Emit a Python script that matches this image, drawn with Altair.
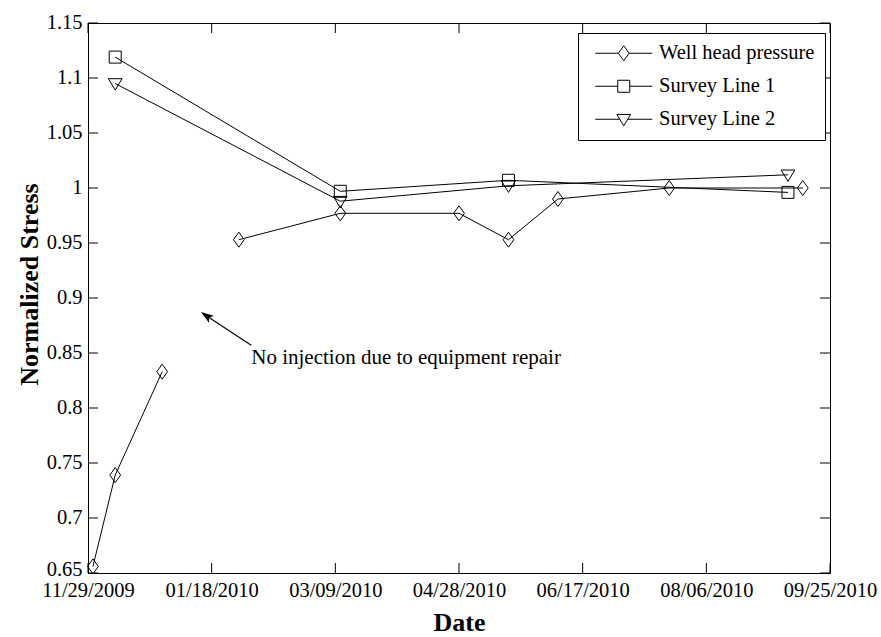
import altair as alt
import pandas as pd

series_names = ["Well head pressure", "Survey Line 1", "Survey Line 2"]

well_dates = ["2009-12-01", "2009-12-10", "2009-12-29", "2010-01-29", "2010-03-11",
              "2010-04-28", "2010-05-18", "2010-06-07", "2010-07-22", "2010-09-14"]
well_values = [0.656, 0.739, 0.833, 0.953, 0.977, 0.977, 0.953, 0.990, 1.000, 1.000]
# injection stopped between the 3rd and 4th measurement (no line across the gap)
well_segment = [1, 1, 1, 2, 2, 2, 2, 2, 2, 2]

line1_dates = ["2009-12-10", "2010-03-11", "2010-05-18", "2010-09-08"]
line1_values = [1.119, 0.997, 1.007, 0.996]

line2_dates = ["2009-12-10", "2010-03-11", "2010-05-18", "2010-09-08"]
line2_values = [1.095, 0.988, 1.002, 1.012]

x_tick_dates = ["2009-11-29", "2010-01-18", "2010-03-09", "2010-04-28",
                "2010-06-17", "2010-08-06", "2010-09-25"]
y_tick_values = [0.65, 0.7, 0.75, 0.8, 0.85, 0.9, 0.95, 1.0, 1.05, 1.1, 1.15]

note_text = "No injection due to equipment repair"
note_date = "2010-02-03"
note_value = 0.8455
arrow_tail_date = "2010-02-03"
arrow_tail_value = 0.857
arrow_head_date = "2010-01-16"
arrow_head_value = 0.8836

# ---- styles ----
W, H = 742, 550
FONT = "Liberation Serif"
marker_paths = [
    "M0,-1.25L0.9,0L0,1.25L-0.9,0Z",
    "M-1,-1L1,-1L1,1L-1,1Z",
    "M-1.15,-0.8L1.15,-0.8L0,1.1Z",
]
legend_paths = [
    "M-4.75,0L-0.9,0M0.9,0L4.75,0M0,-1.25L0.9,0L0,1.25L-0.9,0Z",
    "M-4.75,0L-1,0M1,0L4.75,0M-1,-1L1,-1L1,1L-1,1Z",
    "M-4.75,0L-0.67,0M0.67,0L4.75,0M-1.15,-0.8L1.15,-0.8L0,1.1Z",
]
arrow_path = "M0,-1L0.6,0.8L0,0.4L-0.6,0.8Z"


def ts(s):
    return s + "T00:00:00"


def dt(s):
    y, m, d = map(int, s.split("-"))
    return alt.DateTime(year=y, month=m, date=d)


rows = []
for d, v, g in zip(well_dates, well_values, well_segment):
    rows.append({"date": ts(d), "value": v, "series": series_names[0], "segment": f"w{g}"})
for d, v in zip(line1_dates, line1_values):
    rows.append({"date": ts(d), "value": v, "series": series_names[1], "segment": "s1"})
for d, v in zip(line2_dates, line2_values):
    rows.append({"date": ts(d), "value": v, "series": series_names[2], "segment": "s2"})
df = pd.DataFrame(rows)

x_scale = alt.Scale(domain=[dt(x_tick_dates[0]), dt(x_tick_dates[-1])])
y_scale = alt.Scale(domain=[y_tick_values[0], y_tick_values[-1]], nice=False, zero=False)

x_axis = alt.Axis(values=[dt(s) for s in x_tick_dates], format="%m/%d/%Y", title="Date",
                  labelFlush=False, labelOverlap=False, ticks=False, labelPadding=7,
                  titlePadding=9)
y_axis = alt.Axis(values=y_tick_values, format="~g", title="Normalized Stress",
                  ticks=False, labelPadding=6, labelOverlap=False, titlePadding=4,
                  titleY=261,
                  labelOffset={"condition": {"test": "datum.value < 0.66", "value": -4}, "value": -1})

lines = alt.Chart(df).mark_line(color="black", strokeWidth=1).encode(
    x=alt.X("date:T", scale=x_scale, axis=x_axis),
    y=alt.Y("value:Q", scale=y_scale, axis=y_axis),
    detail="segment:N",
)

points = alt.Chart(df).mark_point(filled=False, color="black", strokeWidth=1, size=144, opacity=1).encode(
    x="date:T",
    y="value:Q",
    shape=alt.Shape("series:N", scale=alt.Scale(domain=series_names, range=marker_paths), legend=None),
)

legend_layer = alt.Chart(df).transform_filter("false").mark_point(
    filled=False, color="black", strokeWidth=1, size=144, opacity=1
).encode(
    x="date:T",
    y="value:Q",
    shape=alt.Shape(
        "series:N",
        scale=alt.Scale(domain=series_names, range=legend_paths),
        legend=alt.Legend(title=None, orient="none", legendX=490, legendY=10),
    ),
)

xt = pd.DataFrame({"date": [ts(d) for d in x_tick_dates]})
yt = pd.DataFrame({"value": y_tick_values})
tick_style = dict(color="black", strokeWidth=1)
bottom_ticks = alt.Chart(xt).mark_rule(**tick_style).encode(x="date:T", y=alt.value(H - 10), y2=alt.value(H))
top_ticks = alt.Chart(xt).mark_rule(**tick_style).encode(x="date:T", y=alt.value(0), y2=alt.value(10))
left_ticks = alt.Chart(yt).mark_rule(**tick_style).encode(y="value:Q", x=alt.value(0), x2=alt.value(10))
right_ticks = alt.Chart(yt).mark_rule(**tick_style).encode(y="value:Q", x=alt.value(W - 10), x2=alt.value(W))

arrow_df = pd.DataFrame({
    "date": [ts(arrow_tail_date)], "value": [arrow_tail_value],
    "date2": [ts(arrow_head_date)], "value2": [arrow_head_value],
})
arrow_line = alt.Chart(arrow_df).mark_rule(color="black", strokeWidth=1.2).encode(
    x="date:T", y="value:Q", x2="date2:T", y2="value2:Q"
)
arrow_head = alt.Chart(arrow_df).mark_point(
    shape=arrow_path, filled=True, color="black", size=196, angle=304.5, opacity=1
).encode(x="date2:T", y="value2:Q")

note_df = pd.DataFrame({"date": [ts(note_date)], "value": [note_value], "text": [note_text]})
note = alt.Chart(note_df).mark_text(
    align="left", baseline="middle", font=FONT, fontSize=21, color="black"
).encode(x="date:T", y="value:Q", text="text:N")

chart = alt.layer(
    lines, points, legend_layer, bottom_ticks, top_ticks, left_ticks, right_ticks,
    arrow_line, arrow_head, note,
).resolve_scale(shape="independent").properties(
    width=W, height=H,
    autosize=alt.AutoSizeParams(type="none"),
    padding={"left": 88, "top": 23, "right": 881 - 88 - W, "bottom": 637 - 23 - H},
    background="white",
).configure_view(
    stroke="black", strokeWidth=1
).configure_axis(
    domainColor="black", domainWidth=1, grid=False,
    labelFont=FONT, labelFontSize=20.5, labelColor="black",
    titleFont=FONT, titleFontSize=26, titleFontWeight="bold", titleColor="black",
).configure_legend(
    strokeColor="black", fillColor="white", padding=10, cornerRadius=0,
    labelFont=FONT, labelFontSize=20.5, labelColor="black", labelLimit=300,
    symbolSize=144, symbolStrokeWidth=1, symbolStrokeColor="black",
    symbolFillColor="transparent", symbolOffset=25.5, labelOffset=25, rowPadding=12,
)

chart.save("out.html", embed_options={"renderer": "svg", "actions": False})
